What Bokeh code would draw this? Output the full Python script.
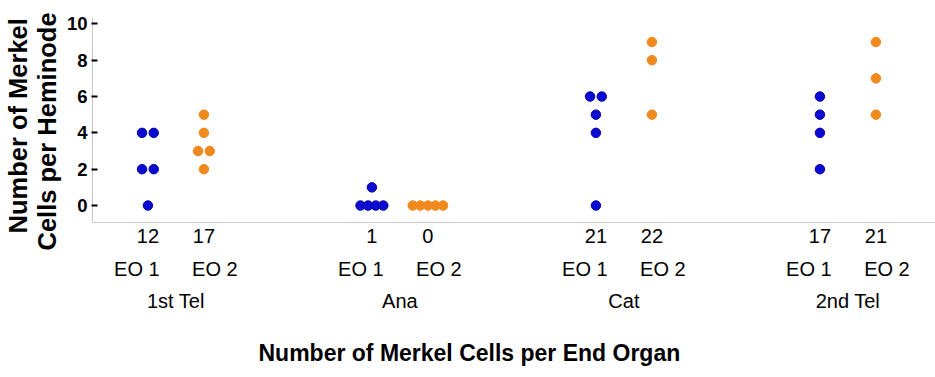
from bokeh.plotting import figure
from bokeh.models import Range1d, LinearAxis, FixedTicker, ColumnDataSource, Title
from bokeh.embed import file_html
from bokeh.resources import INLINE

# ---- data ----
groups = ["1st Tel", "Ana", "Cat", "2nd Tel"]
organs = ["EO 1", "EO 2"]
eo1_values = [[4, 4, 2, 2, 0], [1, 0, 0, 0, 0], [6, 6, 5, 4, 0], [6, 5, 4, 2]]
eo2_values = [[5, 4, 3, 3, 2], [0, 0, 0, 0, 0], [9, 8, 5], [9, 7, 5]]
eo1_totals = [12, 1, 21, 17]
eo2_totals = [17, 0, 22, 21]
y_ticks = [0, 2, 4, 6, 8, 10]
y_title = ["Number of Merkel", "Cells per Heminode"]
x_title = "Number of Merkel Cells per End Organ"

# ---- layout constants ----
PX_PER_GROUP = 224.0
COL_OFF = 28.0 / PX_PER_GROUP      # dot column offset from group center
LBL_OFF = 39.0 / PX_PER_GROUP      # "EO" label offset from group center
FONT = "Liberation Sans"
BLUE = "#0a0ad2"
ORANGE = "#f08a1e"


def swarm(vals, center):
    xs, ys = [], []
    for v in sorted(set(vals), reverse=True):
        n = vals.count(v)
        step = (11.7 if n <= 2 else 7.6) / PX_PER_GROUP
        for i in range(n):
            xs.append(center + (i - (n - 1) / 2) * step)
            ys.append(v)
    return xs, ys


p = figure(width=935, height=377, output_backend="svg", toolbar_location=None,
           x_range=Range1d(-0.3723, 3.391), y_range=Range1d(-0.934, 10.35),
           x_axis_location=None, min_border_left=92, min_border_right=0,
           min_border_top=17, min_border_bottom=155)
p.outline_line_color = None
p.grid.visible = False
p.background_fill_color = "white"
p.border_fill_color = "white"

for vals_list, off, color, line in ((eo1_values, -COL_OFF, BLUE, "#0606a8"),
                                    (eo2_values, COL_OFF, ORANGE, ORANGE)):
    xs, ys = [], []
    for g, vals in enumerate(vals_list):
        x, y = swarm(vals, g + off)
        xs += x
        ys += y
    src = ColumnDataSource(dict(x=xs, y=ys))
    p.scatter("x", "y", source=src, size=9.5, fill_color=color, line_color=line,
              line_width=1)

# y axis
ya = p.yaxis[0]
ya.ticker = FixedTicker(ticks=y_ticks)
ya.minor_tick_line_color = None
ya.axis_line_color = "#c8c8c8"
ya.major_tick_line_color = "black"
ya.major_tick_line_width = 2
ya.major_tick_in = 5
ya.major_tick_out = 1
ya.major_label_standoff = 4
ya.major_label_text_font = FONT
ya.major_label_text_font_style = "bold"
ya.major_label_text_font_size = "18.5px"
ya.major_label_text_color = "black"

# y title as two stacked side titles (nearest line first)
for txt, off, so, va in ((y_title[1], -28, 2, "top"), (y_title[0], -11, 0, "bottom")):
    t = Title(text=txt, align="left", offset=off, standoff=so, vertical_align=va,
              text_font=FONT, text_font_style="bold", text_font_size="25.5px",
              text_color="black")
    p.add_layout(t, "left")

# x axes: totals row, organ row, group row
col_ticks, col_labels, eo_ticks, eo_labels = [], {}, [], {}
for g in range(len(groups)):
    for k, (off, tot) in enumerate(((-COL_OFF, eo1_totals[g]), (COL_OFF, eo2_totals[g]))):
        t = round(g + off, 6)
        col_ticks.append(t)
        col_labels[t] = str(tot)
    for k, loff in enumerate((-LBL_OFF, LBL_OFF)):
        t = round(g + loff, 6)
        eo_ticks.append(t)
        eo_labels[t] = organs[k]
grp_ticks = [float(g) for g in range(len(groups))]
grp_labels = {float(g): groups[g] for g in range(len(groups))}


def make_axis(ticks, labels, line_color, standoff, tick_out=0, tick_color=None,
              font_size="20px"):
    ax = LinearAxis(ticker=FixedTicker(ticks=ticks), major_label_overrides=labels)
    ax.axis_line_color = line_color
    ax.major_tick_line_color = tick_color
    ax.minor_tick_line_color = None
    ax.major_tick_out = tick_out
    ax.major_tick_in = 0
    ax.major_label_standoff = standoff
    ax.major_label_text_font = FONT
    ax.major_label_text_font_size = font_size
    ax.major_label_text_color = "black"
    return ax


ax1 = make_axis(col_ticks, col_labels, "#c8c8c8", 6)
ax2 = make_axis(eo_ticks, eo_labels, None, 12)
ax3 = make_axis(grp_ticks, grp_labels, None, 7)
# invisible spacer band between the group row and the x title
gap = make_axis([1.5], {1.5: ""}, None, 0, tick_out=23, tick_color="white",
                font_size="1px")
p.add_layout(ax1, "below")
p.add_layout(ax2, "below")
p.add_layout(ax3, "below")
p.add_layout(gap, "below")

xt = Title(text=x_title, align="left", offset=166, standoff=0,
           text_font=FONT, text_font_style="bold", text_font_size="23px",
           text_color="black")
p.add_layout(xt, "below")

open("out.html", "w").write(file_html(p, INLINE))
